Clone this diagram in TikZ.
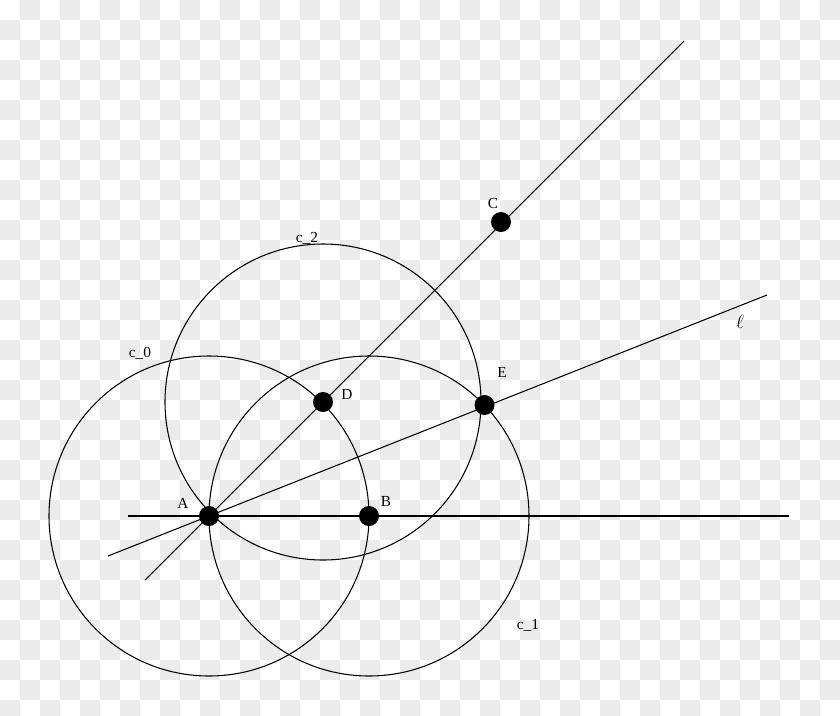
\documentclass[tikz,border=0pt]{standalone}
\usepackage{fontspec}
\setmainfont{Liberation Serif}
\usepackage{xcolor}
\definecolor{checkgray}{HTML}{EBEBEB}

\begin{document}
\begin{tikzpicture}[x=0.75pt,y=-0.75pt,
  pnt/.style={circle,fill=black,inner sep=0pt,minimum size=15pt},
  lbl/.style={inner sep=0pt,font=\fontsize{11.5}{13}\selectfont},
  geo/.style={draw=black,line width=0.8pt}]

  \useasboundingbox (0,0) rectangle (840,715);

  % Background
  \begin{scope}
  \clip (0,0) rectangle (840,715);
  \fill[white] (0,0) rectangle (840,715);
  \foreach \i in {0,...,41}{
    \foreach \k in {0,...,17}{
      \fill[checkgray] ({\i*20},{(2*\k+mod(\i+1,2))*20}) rectangle +(20,20);
    }
  }
  \end{scope}

  % Points
  \coordinate (A) at (209,516);
  \coordinate (B) at (369,516);
  \coordinate (D) at (323,402);
  \coordinate (E) at (484.5,405);
  \coordinate (C) at (501,222);

  \coordinate (hL) at (128,516);
  \coordinate (hR) at (789,516);
  \coordinate (dL) at (145,580);
  \coordinate (dR) at (684,41);
  \coordinate (eL) at (108,556);
  \coordinate (eR) at (767,295);


  % Circles
  \draw[geo] (A) circle[radius=160];
  \draw[geo] (B) circle[radius=160];
  \draw[geo] (D) circle[radius=158];

  % Lines
  \draw[geo] (hL) to (hR);
  \draw[geo] (dL) to (dR);
  \draw[geo] (eL) to (eR);


  \node[pnt] (ptA) at (A) {};
  \node[pnt] (ptB) at (B) {};
  \node[pnt] (ptC) at (C) {};
  \node[pnt] (ptD) at (D) {};
  \node[pnt] (ptE) at (E) {};

  % Labels
  \node[lbl] (labA) at (183,503) {A};
  \node[lbl] (labB) at (386,501) {B};
  \node[lbl] (labC) at (493,203) {C};
  \node[lbl] (labD) at (347,394) {D};
  \node[lbl] (labE) at (502,372) {E};
  \node[lbl] (labc0) at (140,353) {c\_0};
  \node[lbl] (labc1) at (528,625) {c\_1};
  \node[lbl] (labc2) at (307,238) {c\_2};
  \node[lbl,font=\fontsize{15}{17}\selectfont] (labl) at (740,322) {$\ell$};

\end{tikzpicture}
\end{document}
